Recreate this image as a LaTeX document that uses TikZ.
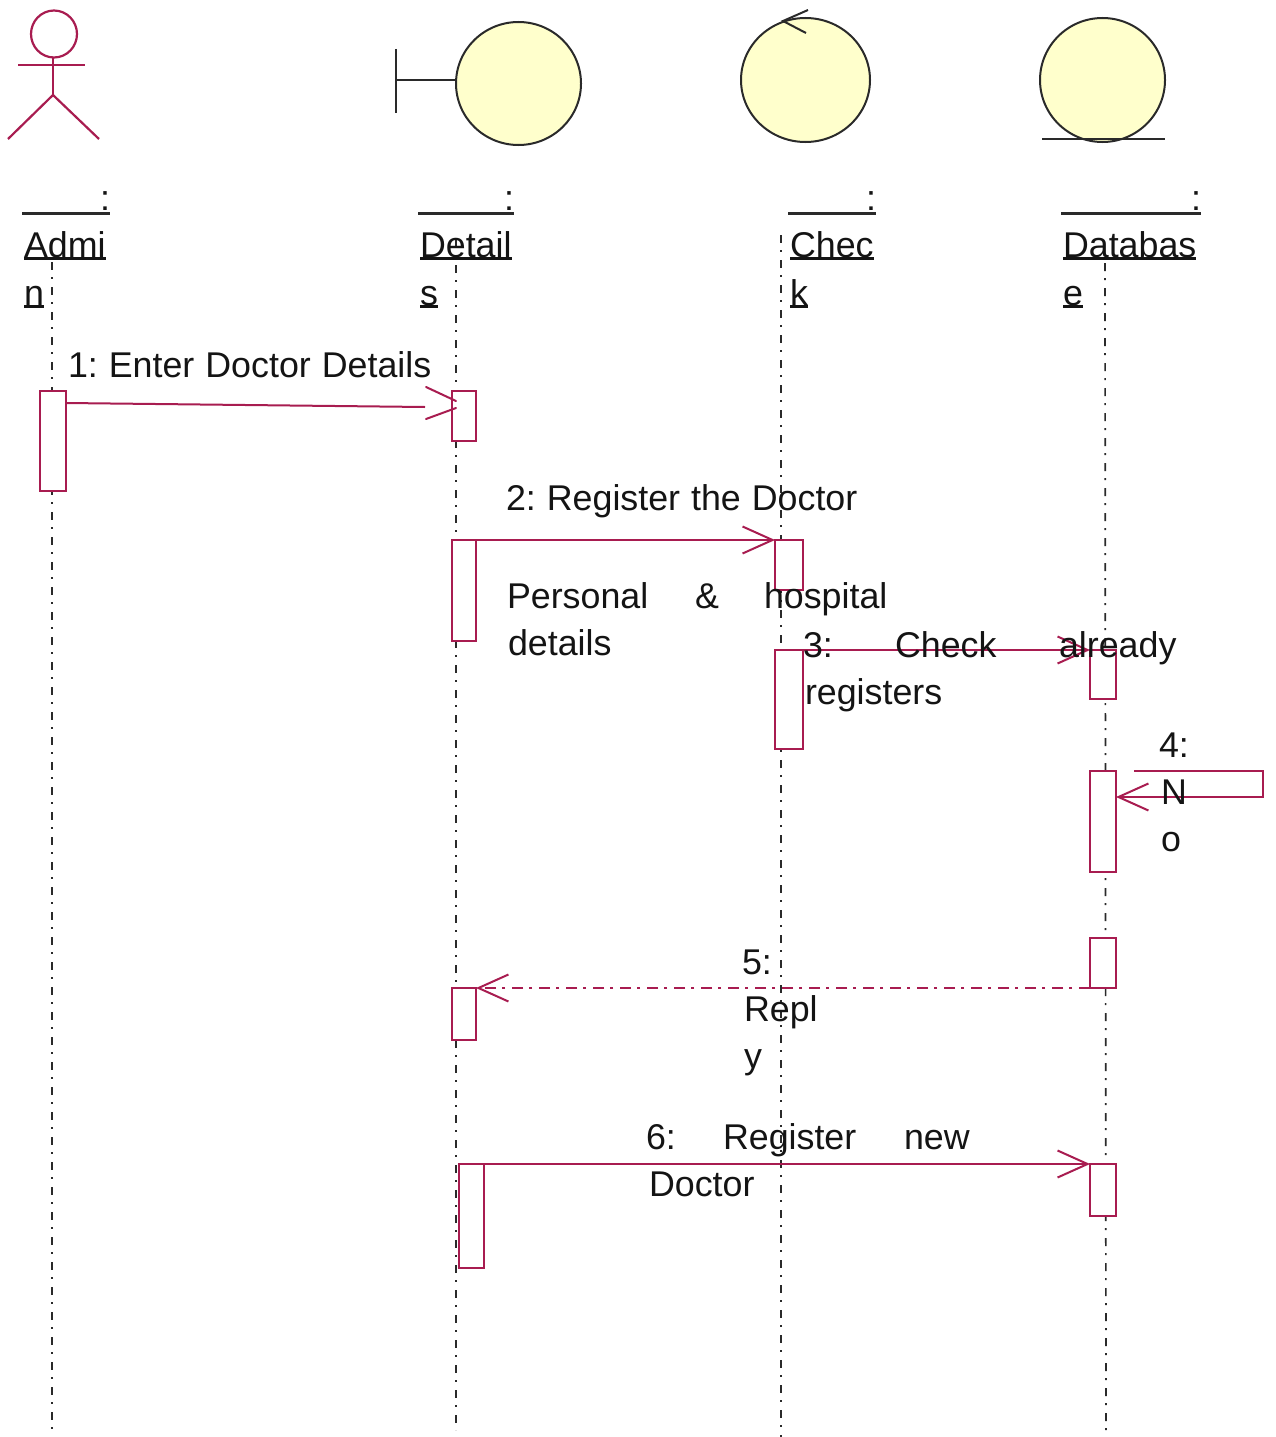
\documentclass[tikz,border=0pt]{standalone}
\usepackage{fontspec}
\setmainfont{Liberation Sans}
\usetikzlibrary{arrows.meta,calc,shapes.geometric}
\definecolor{umlred}{HTML}{A81C50}
\definecolor{umlyel}{HTML}{FFFFCC}
\definecolor{umlink}{HTML}{2A2A2A}
\newcommand{\ulbl}[1]{\setbox0\hbox{#1}\leavevmode\rlap{\rule[-3pt]{\wd0}{2.6pt}}\box0}
\newcommand{\msgspaced}[1]{{\spaceskip 11pt\relax #1}}
\tikzset{
  lab/.style={anchor=base west,inner sep=0pt,outer sep=0pt,text=black!92,font=\fontsize{35.8pt}{47pt}\selectfont\frenchspacing},
  colonlab/.style={lab,anchor=base east},
  bar/.style={draw=umlred,line width=2pt,fill=white,inner sep=0pt,outer sep=0pt,anchor=north west},
  plainmsg/.style={draw=umlred,line width=2pt},
  msg/.style={plainmsg,-{Straight Barb[length=30pt,width=27pt,line width=2pt]}},
  reply/.style={msg,dash pattern=on 11pt off 7pt on 3pt off 6pt},
  life/.style={draw=umlink,line width=1.7pt,dash pattern=on 8pt off 7pt on 2pt off 8pt},
  glyph/.style={draw=umlink,line width=2pt},
  ball/.style={glyph,fill=umlyel,ellipse,inner sep=0pt,outer sep=0pt},
  actor/.style={draw=umlred,line width=2.2pt},
  head/.style={actor,ellipse,inner sep=0pt,outer sep=0pt,minimum width=46pt,minimum height=47pt},
  rule/.style={draw=umlink,line width=3pt},
}
\begin{document}
\begin{tikzpicture}[x=1pt,y=-1pt]
\useasboundingbox (0,0) rectangle (1276,1437);
% lifelines
\coordinate (l1a) at (52,262); \coordinate (l1b) at (52,1437);
\coordinate (l2a) at (456,240); \coordinate (l2b) at (456,1430);
\coordinate (l3a) at (781,235); \coordinate (l3b) at (781,1437);
\coordinate (l4a) at (1105,263); \coordinate (l4b) at (1106,1437);
\draw[life] (l1a) -- (l1b);
\draw[life] (l2a) -- (l2b);
\draw[life] (l3a) -- (l3b);
\draw[life] (l4a) -- (l4b);
% actor
\node[head] (ahead) at (54,34) {};
\coordinate (aleft) at (18,65); \coordinate (aright) at (85,65);
\coordinate (ahip) at (53,95); \coordinate (alegl) at (8,139); \coordinate (alegr) at (99,139);
\draw[actor] (aleft) -- (aright);
\draw[actor] (ahead.south -| ahip) -- (ahip);
\draw[actor] (alegl) -- (ahip) -- (alegr);
% boundary
\node[ball,minimum width=125pt,minimum height=123pt] (bdry) at (518.5,83.5) {};
\coordinate (bt) at (396,49); \coordinate (bb) at (396,113); \coordinate (bm) at (396,80);
\draw[glyph] (bt) -- (bb);
\draw[glyph] (bm) -- (bdry.west |- bm);
% control
\node[ball,minimum width=129pt,minimum height=124pt] (ctrl) at (805.5,80) {};
\coordinate (ct) at (783,21); \coordinate (c1) at (808,10); \coordinate (c2) at (806,33);
\draw[glyph] (c1) -- (ct) -- (c2);
% entity
\node[ball,minimum width=125pt,minimum height=124pt] (ent) at (1102.5,80) {};
\coordinate (e1) at (1042,139); \coordinate (e2) at (1165,139);
\draw[glyph] (e1) -- (e2);
% object names
\coordinate (u1a) at (22,213); \coordinate (u1b) at (110,213);
\coordinate (u2a) at (418,213); \coordinate (u2b) at (514,213);
\coordinate (u3a) at (788,213); \coordinate (u3b) at (876,213);
\coordinate (u4a) at (1061,213); \coordinate (u4b) at (1201,213);
\draw[rule] (u1a) -- (u1b);
\draw[rule] (u2a) -- (u2b);
\draw[rule] (u3a) -- (u3b);
\draw[rule] (u4a) -- (u4b);
% bars
\node[bar,minimum width=26pt,minimum height=100pt] (A1) at (40,391) {};
\node[bar,minimum width=24pt,minimum height=50pt] (D1) at (452,391) {};
\node[bar,minimum width=24pt,minimum height=101pt] (D2) at (452,540) {};
\node[bar,minimum width=28pt,minimum height=50pt] (C1) at (775,540) {};
\node[bar,minimum width=28pt,minimum height=99pt] (C2) at (775,650) {};
\node[bar,minimum width=26pt,minimum height=49pt] (B1) at (1090,650) {};
\node[bar,minimum width=26pt,minimum height=101pt] (B2) at (1090,771) {};
\node[bar,minimum width=26pt,minimum height=50pt] (B3) at (1090,938) {};
\node[bar,minimum width=24pt,minimum height=52pt] (D3) at (452,988) {};
\node[bar,minimum width=25pt,minimum height=104pt] (D4) at (459,1164) {};
\node[bar,minimum width=26pt,minimum height=52pt] (B4) at (1090,1164) {};
% messages
\coordinate (m1end) at (425,407);
\coordinate (m1up) at (426,387); \coordinate (m1lo) at (426,419);
\draw[plainmsg] ($(A1.north east)+(0,12)$) -- (m1end);
\draw[plainmsg,line cap=round] (m1up) -- ($(D1.north west)+(4,10)$);
\draw[plainmsg,line cap=round] (m1lo) -- ($(D1.north west)+(4,17)$);
\draw[msg] (D2.north east) -- (C1.north west);
\draw[msg] (C2.north east) -- (B1.north west);
\coordinate (s4a) at (1134,771); \coordinate (s4b) at (1263,771); \coordinate (s4c) at (1263,797);
\draw[msg] (s4a) -- (s4b) -- (s4c) -- (s4c -| B2.east);
\draw[reply] (B3.south west) -- (D3.north east);
\draw[msg] (D4.north east) -- (B4.north west);
% texts
\node[colonlab] (t1c) at (110,210) {:};
\node[colonlab] (t2c) at (514,210) {:};
\node[colonlab] (t3c) at (876,210) {:};
\node[colonlab] (t4c) at (1201,210) {:};
\node[lab] (t1a) at (24,257) {\ulbl{Admi}};
\node[lab] (t1b) at (24,305) {\ulbl{n}};
\node[lab] (t2a) at (420,257) {\ulbl{Detail}};
\node[lab] (t2b) at (420,305) {\ulbl{s}};
\node[lab] (t3a) at (790,257) {\ulbl{Chec}};
\node[lab] (t3b) at (790,305) {\ulbl{k}};
\node[lab] (t4a) at (1063,257) {\ulbl{Databas}};
\node[lab] (t4b) at (1063,305) {\ulbl{e}};
\node[lab] (m1) at (68,377) {\msgspaced{1: Enter Doctor Details}};
\node[lab] (m2) at (506,510) {\msgspaced{2: Register the Doctor}};
\node[lab] (m2a) at (507,608) {Personal};
\node[lab] (m2b) at (695,608) {\&};
\node[lab] (m2c) at (764,608) {hospital};
\node[lab] (m2d) at (508,655) {details};
\node[lab] (m3a) at (803,657) {3:};
\node[lab] (m3b) at (895,657) {Check};
\node[lab] (m3c) at (1059,657) {already};
\node[lab] (m3d) at (805,704) {registers};
\node[lab] (m4a) at (1159,757) {4:};
\node[lab] (m4b) at (1161,804) {N};
\node[lab] (m4c) at (1161,851) {o};
\node[lab] (m5a) at (742,974) {5:};
\node[lab] (m5b) at (744,1021) {Repl};
\node[lab] (m5c) at (744,1068) {y};
\node[lab] (m6a) at (646,1149) {6:};
\node[lab] (m6b) at (723,1149) {Register};
\node[lab] (m6c) at (904,1149) {new};
\node[lab] (m6d) at (649,1196) {Doctor};
\end{tikzpicture}
\end{document}
